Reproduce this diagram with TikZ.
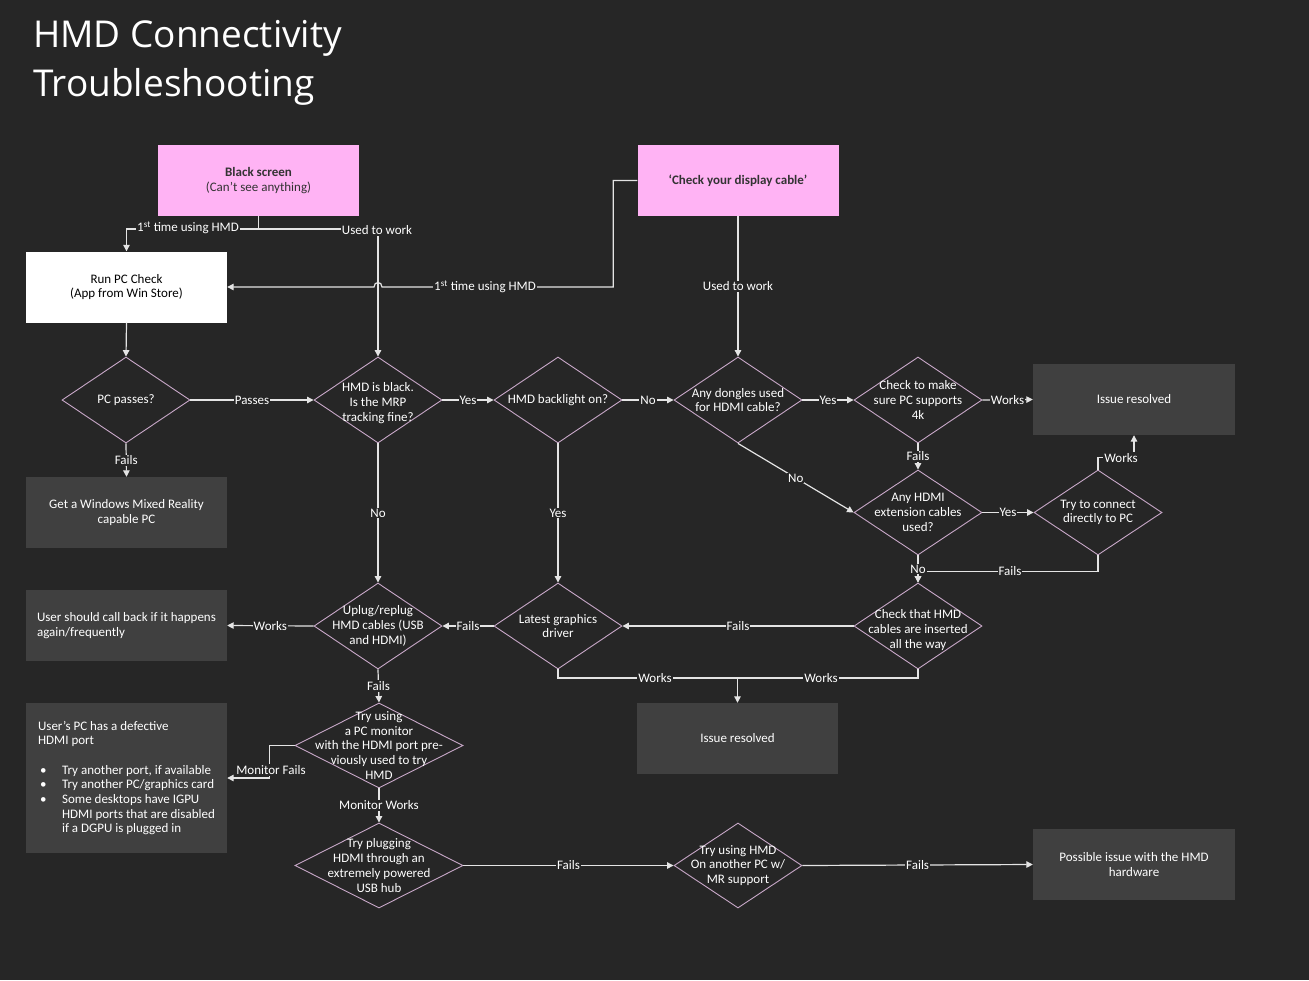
\documentclass[tikz,border=0pt]{standalone}
\usepackage{fontspec}
\setmainfont{Carlito}
\newfontfamily\titlefont{Open Sans}
\usetikzlibrary{shapes.geometric,arrows.meta}
\definecolor{bgc}{HTML}{262626}
\definecolor{pinkc}{HTML}{FFB3F4}
\definecolor{pinktext}{HTML}{333333}
\definecolor{greyc}{HTML}{404040}
\definecolor{diac}{HTML}{C8A8C8}
\definecolor{connc}{HTML}{E4E4E4}
\newcommand\myfs{\fontsize{13}{14.7}\selectfont}
\newcommand\mybul{\makebox[24pt][l]{\hspace{2pt}\textbullet}}
\begin{document}
\begin{tikzpicture}[x=1pt,y=-1pt,
  box/.style={rectangle, inner sep=0pt, minimum width=201pt, minimum height=71pt, align=center, font=\myfs},
  pinkbox/.style={box, fill=pinkc, text=pinktext},
  whitebox/.style={box, fill=white, text=black},
  greybox/.style={box, fill=greyc, text=white},
  dia/.style={diamond, draw=diac, line width=0.9pt, inner sep=0pt, minimum width=128pt, minimum height=86pt},
  widedia/.style={dia, minimum width=168pt, minimum height=85pt},
  dtext/.style={align=center, text=white, font=\myfs, inner sep=0pt},
  conn/.style={draw=connc, line width=1.2pt},
  arr/.style={conn, -{Triangle[length=6.5pt,width=6.5pt]}},
  lbl/.style={fill=bgc, text=white, font=\myfs, inner sep=1pt}]
\fill[bgc] (0,0) rectangle (1309,980);
\useasboundingbox (0,0) rectangle (1309,980);

% title
\node[anchor=north west, inner sep=0pt, align=left, text=white,
  font={\titlefont\fontsize{37}{49}\selectfont}] (title) at (33,20) {HMD Connectivity\\Troubleshooting};

% boxes
\node[pinkbox] (black) at (258.5,180.5) {\textbf{Black screen}\\(Can’t see anything)};
\node[pinkbox] (cable) at (738,180.5) {\textbf{‘Check your display cable’}};
\node[whitebox] (runpc) at (126.5,287) {Run PC Check\\(App from Win Store)};
\node[greybox] (getwin) at (126.5,512.5) {Get a Windows Mixed Reality\\capable PC};
\node[greybox, align=left] (callback) at (126.5,625.5) {User should call back if it happens\\again/frequently};
\node[greybox, align=left, minimum height=150pt] (defect) at (126.5,778) {User’s PC has a defective\\HDMI port\\[14.7pt]
  \mybul Try another port, if available\\
  \mybul Try another PC/graphics card\\
  \mybul Some desktops have IGPU\\
  \hspace*{24pt}HDMI ports that are disabled\\
  \hspace*{24pt}if a DGPU is plugged in};
\node[greybox, minimum width=202pt] (res1) at (1134,399.5) {Issue resolved};
\node[greybox] (res2) at (737.5,738.5) {Issue resolved};
\node[greybox, minimum width=202pt] (possible) at (1134,864.5) {Possible issue with the HMD\\hardware};

% diamonds
\node[dia] (pcpass) at (126,400) {};
\node[dia] (hmdblack) at (378,400) {};
\node[dia] (backlight) at (558,400) {};
\node[dia] (dongle) at (738,400) {};
\node[dia] (check4k) at (918,400) {};
\node[dia, minimum height=85pt] (hdmiext) at (918,512.5) {};
\node[dia, minimum height=85pt] (direct) at (1098,512.5) {};
\node[dia] (checkins) at (918,626) {};
\node[dia] (latest) at (558,626) {};
\node[dia] (uplug) at (378,626) {};
\node[widedia] (monitor) at (379,745.5) {};
\node[widedia] (plugging) at (379,865.5) {};
\node[dia, minimum height=85pt] (anotherpc) at (738,865.5) {};

\node[dtext] at (pcpass) {PC passes?};
\node[dtext] at ([yshift=-3pt]hmdblack.center) {HMD is black.\\Is the MRP\\tracking fine?};
\node[dtext] at (backlight) {HMD backlight on?};
\node[dtext] at (dongle) {Any dongles used\\for HDMI cable?};
\node[dtext] at (check4k) {Check to make\\sure PC supports\\4k};
\node[dtext] at (hdmiext) {Any HDMI\\extension cables\\used?};
\node[dtext] at (direct) {Try to connect\\directly to PC};
\node[dtext] at ([yshift=-4pt]checkins.center) {Check that HMD\\cables are inserted\\all the way};
\node[dtext] at (latest) {Latest graphics\\driver};
\node[dtext] at (uplug) {Uplug/replug\\HMD cables (USB\\and HDMI)};
\node[dtext] at (monitor) {Try using\\a PC monitor\\with the HDMI port pre-\\viously used to try\\HMD};
\node[dtext] at (plugging) {Try plugging\\HDMI through an\\extremely powered\\USB hub};
\node[dtext] at (anotherpc) {Try using HMD\\On another PC w/\\MR support};

% connectors
\coordinate (bs) at (258.5,229);
\draw[conn] (black.south) -- (bs);
\draw[arr] (bs) -| (runpc.north);
\draw[arr] (bs) -| (hmdblack.north);
\node[lbl] at (188,228) {1\textsuperscript{st} time using HMD};
\node[lbl] at (377,230) {Used to work};

\coordinate (hopR) at (382,287);
\coordinate (hopL) at (374,287);
\draw[arr] (cable.west) -- ++(-24,0) |- (hopR) .. controls +(0,-6) and +(0,-6) .. (hopL) -- (runpc.east);
\node[lbl] at (485,287) {1\textsuperscript{st} time using HMD};

\draw[arr] (cable.south) -- (dongle.north) node[lbl, midway] {Used to work};
\draw[arr] (runpc.south) -- (pcpass.north);
\draw[arr] (pcpass.east) -- (hmdblack.west) node[lbl, midway] {Passes};
\draw[arr] (pcpass.south) -- (getwin.north) node[lbl, midway] {Fails};
\draw[arr] (hmdblack.east) -- (backlight.west) node[lbl, midway] {Yes};
\draw[arr] (backlight.east) -- (dongle.west) node[lbl, midway] {No};
\draw[arr] (dongle.east) -- (check4k.west) node[lbl, midway] {Yes};
\draw[arr] (check4k.east) -- (res1.west) node[lbl, midway] {Works};
\draw[arr] (check4k.south) -- (hdmiext.north) node[lbl, midway] {Fails};
\draw[arr] (dongle.south) -- (hdmiext.west) node[lbl, midway] {No};
\draw[arr] (hdmiext.east) -- (direct.west) node[lbl, midway] {Yes};

\draw[arr] (direct.north) -- ++(0,-12) -| (res1.south);
\node[lbl] at (1121,458) {Works};
\draw[arr] (direct.south) -- ++(0,16) -| (checkins.north);
\node[lbl] at (1010,571) {Fails};
\draw[arr] (hdmiext.south) -- (checkins.north) node[lbl, midway] {No};

\draw[arr] (checkins.west) -- (latest.east) node[lbl, midway] {Fails};
\draw[arr] (latest.west) -- (uplug.east) node[lbl, midway] {Fails};
\draw[arr] (backlight.south) -- (latest.north) node[lbl, midway] {Yes};
\draw[arr] (hmdblack.south) -- (uplug.north) node[lbl, midway] {No};
\draw[arr] (uplug.west) -- (callback.east) node[lbl, midway] {Works};

\coordinate (jn) at (737.5,678);
\draw[conn] (latest.south) |- (jn);
\draw[conn] (checkins.south) |- (jn);
\draw[arr] (jn) -- (res2.north);
\node[lbl] at (655,678) {Works};
\node[lbl] at (821,678) {Works};

\draw[arr] (uplug.south) -- (monitor.north) node[lbl, midway] {Fails};
\draw[arr] (monitor.west) -- ++(-25,0) |- (defect.east);
\node[lbl] at (271,770) {Monitor Fails};
\draw[arr] (monitor.south) -- (plugging.north) node[lbl, midway] {Monitor Works};
\draw[arr] (plugging.east) -- (anotherpc.west) node[lbl, midway] {Fails};
\draw[arr] (anotherpc.east) -- (possible.west) node[lbl, midway] {Fails};
\end{tikzpicture}
\end{document}
